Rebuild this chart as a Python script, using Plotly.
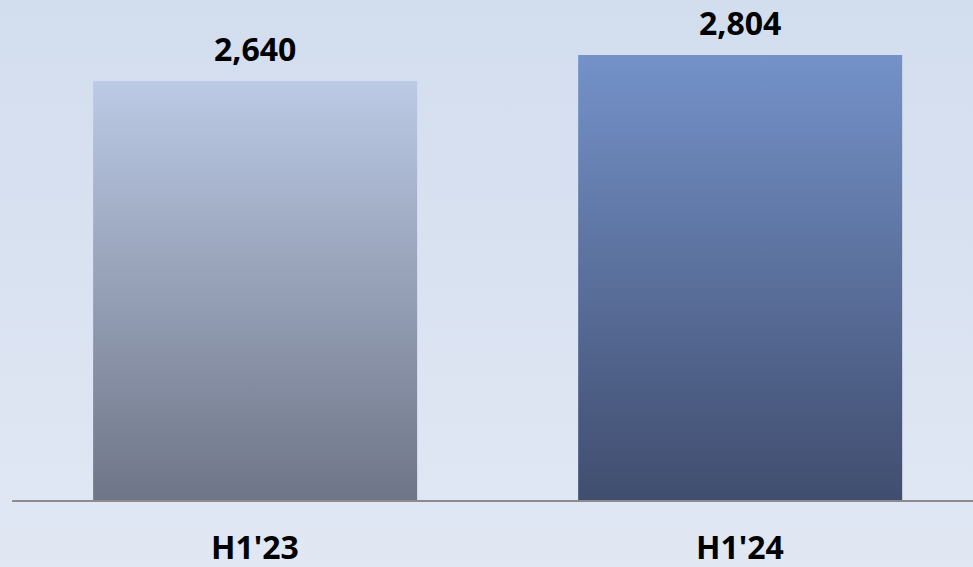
import plotly.graph_objects as go

# data
categories = ["H1'23", "H1'24"]
values = [2640, 2804]
value_labels = ["2,640", "2,804"]

# bar gradients (bottom colour, top colour)
bar_colors = [("#6e7587", "#bccae5"), ("#404d6e", "#7492c9")]
bar_width = 0.668

x_range = [-0.526, 1.48]
y_range = [-415, 3149]

fig = go.Figure()

# background gradient over the whole page
fig.add_trace(go.Scatter(
    x=[x_range[0], x_range[1], x_range[1], x_range[0], x_range[0]],
    y=[y_range[0], y_range[0], y_range[1], y_range[1], y_range[0]],
    mode="lines", line=dict(width=0), fill="toself",
    fillgradient=dict(type="vertical", colorscale=[[0, "#e1e8f4"], [1, "#d2ddee"]]),
    hoverinfo="skip", showlegend=False,
))

for i, (cat, v) in enumerate(zip(categories, values)):
    x0, x1 = i - bar_width / 2, i + bar_width / 2
    fig.add_trace(go.Scatter(
        x=[x0, x1, x1, x0, x0], y=[0, 0, v, v, 0],
        mode="lines", line=dict(width=0), fill="toself",
        fillgradient=dict(type="vertical",
                          colorscale=[[0, bar_colors[i][0]], [1, bar_colors[i][1]]]),
        name=cat, hoverinfo="skip", showlegend=False,
    ))
    fig.add_annotation(x=i, y=v, text=value_labels[i], showarrow=False,
                       yanchor="middle", yshift=32,
                       font=dict(family="Open Sans", size=32, color="black", weight="bold"))
    # category label under the baseline
    fig.add_annotation(x=i, y=0, text=cat, showarrow=False, borderpad=0,
                       yanchor="middle", yshift=-46,
                       font=dict(family="Open Sans", size=32, color="black", weight="bold"))

# baseline
fig.add_shape(type="line", x0=-0.501, x1=x_range[1], y0=0, y1=0,
              line=dict(color="#8c8c8c", width=2))

fig.update_layout(
    width=973, height=567,
    margin=dict(l=0, r=0, t=0, b=0),
    paper_bgcolor="#dbe3f1", plot_bgcolor="#dbe3f1",
    xaxis=dict(range=x_range, visible=False, fixedrange=True),
    yaxis=dict(range=y_range, visible=False, fixedrange=True),
    showlegend=False,
)

fig.write_html("out.html", config=dict(displayModeBar=False),
               post_script="document.body.style.margin='0';document.body.style.overflow='hidden';")
